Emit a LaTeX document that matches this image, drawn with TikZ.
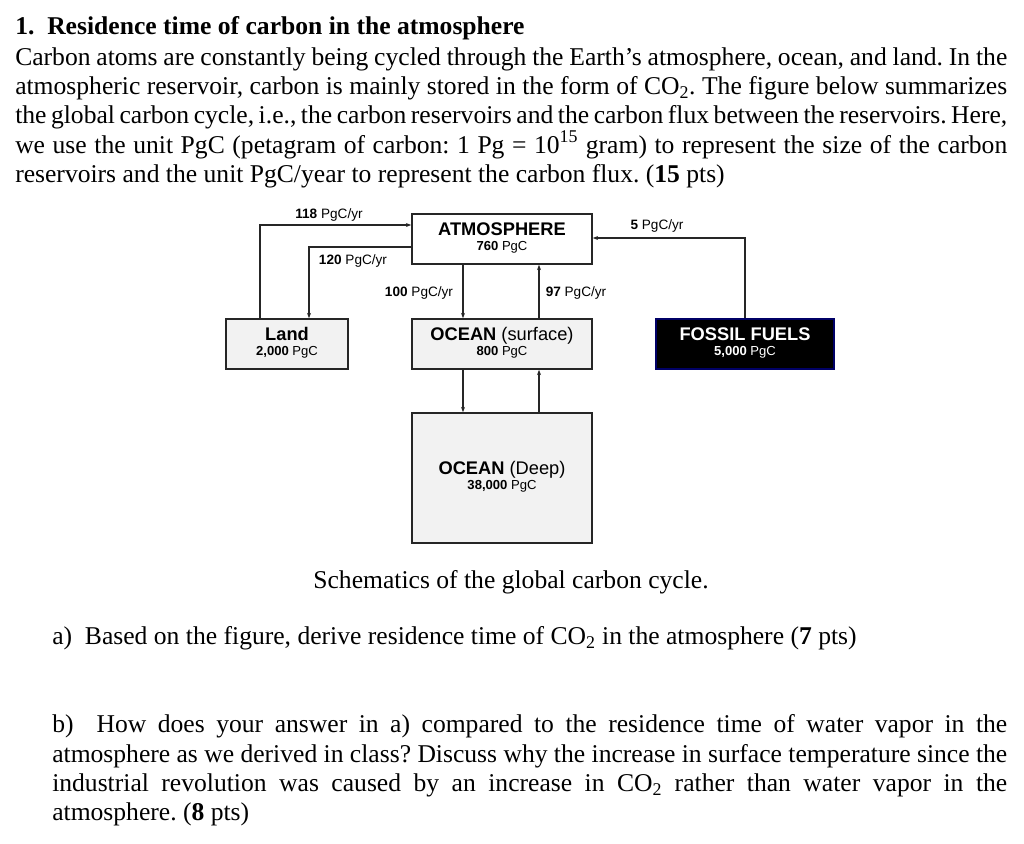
\documentclass[tikz,border=0pt]{standalone}
\usepackage{fontspec}
\usetikzlibrary{arrows.meta}
\setmainfont{Liberation Serif}
\setsansfont{Liberation Sans}
\frenchspacing
\newcommand{\bigt}{\fontsize{13.7}{15}\selectfont}
\newcommand{\smt}{\fontsize{9.8}{11}\selectfont}
\begin{document}
\begin{tikzpicture}[x=0.75pt,y=-0.75pt,
  box/.style={draw=black!85,line width=1.2pt,fill=black!5,inner sep=0pt,font=\sffamily},
  flow/.style={draw=black!85,line width=0.8pt,-{Stealth[length=4pt,width=3pt]}},
  lbl/.style={font=\sffamily\fontsize{10.2}{11}\selectfont,inner sep=1pt},
  txt/.style={anchor=base west,inner sep=0pt,font=\fontsize{19.2}{22}\selectfont}]
\useasboundingbox (0,0) rectangle (1024,843);
\fill[white] (0,0) rectangle (1024,843);
% text
\node[txt] (h) at (15,34) {\textbf{1.\ \ Residence time of carbon in the atmosphere}};
\node[txt] (l1) at (15,65) {\makebox[744pt][s]{Carbon atoms are constantly being cycled through the Earth’s atmosphere, ocean, and land. In the}};
\node[txt] (l2) at (15,94) {\makebox[744pt][s]{atmospheric reservoir, carbon is mainly stored in the form of CO\textsubscript{2}. The figure below summarizes}};
\node[txt] (l3) at (15,123) {\makebox[744pt][s]{the global carbon cycle, i.e., the carbon reservoirs and the carbon flux between the reservoirs. Here,}};
\node[txt] (l4) at (15,153) {\makebox[744pt][s]{we use the unit PgC (petagram of carbon: 1 Pg = 10\textsuperscript{15} gram) to represent the size of the carbon}};
\node[txt] (l5) at (15,182) {reservoirs and the unit PgC/year to represent the carbon flux. (\textbf{15} pts)};
% boxes
\node[box,fill=white,minimum width=135pt,minimum height=37.5pt] (atm) at (502,239) {\begin{tabular}{@{}c@{}}\bigt\textbf{ATMOSPHERE}\\[-1pt]\smt\textbf{760} PgC\end{tabular}};
\node[box,minimum width=91.5pt,minimum height=37.5pt] (land) at (287,344) {\begin{tabular}{@{}c@{}}\bigt\textbf{Land}\\[-1pt]\smt\textbf{2,000} PgC\end{tabular}};
\node[box,minimum width=135pt,minimum height=37.5pt] (surf) at (502,344) {\begin{tabular}{@{}c@{}}\bigt\textbf{OCEAN} (surface)\\[-1pt]\smt\textbf{800} PgC\end{tabular}};
\node[box,fill=black,draw=blue!40!black,text=white,minimum width=133.5pt,minimum height=37.5pt] (foss) at (745,344) {\begin{tabular}{@{}c@{}}\bigt\textbf{FOSSIL FUELS}\\[-1pt]\smt\textbf{5,000} PgC\end{tabular}};
\node[box,minimum width=135pt,minimum height=97.5pt] (deep) at (502,478) {\begin{tabular}{@{}c@{}}\bigt\textbf{OCEAN} (Deep)\\[-1pt]\smt\textbf{38,000} PgC\end{tabular}};
% flows
\coordinate (c118a) at (260,225); \coordinate (c120a) at (309,247);
\draw[flow] (land.north -| c118a) |- (c118a -| atm.west);
\draw[flow] (c120a -| atm.west) -| (land.north -| c120a);
\draw[flow] (atm.south -| 463,0) -- (surf.north -| 463,0);
\draw[flow] (surf.north -| 539,0) -- (atm.south -| 539,0);
\draw[flow] (surf.south -| 463,0) -- (deep.north -| 463,0);
\draw[flow] (deep.north -| 539,0) -- (surf.south -| 539,0);
\coordinate (cf) at (745,238);
\draw[flow] (foss.north) |- (cf -| atm.east);
\node[lbl] (t118) at (329,215) {\textbf{118} PgC/yr};
\node[lbl] (t120) at (353,261) {\textbf{120} PgC/yr};
\node[lbl] (t100) at (419,293) {\textbf{100} PgC/yr};
\node[lbl] (t97) at (576,293) {\textbf{97} PgC/yr};
\node[lbl] (t5) at (657,226) {\textbf{5} PgC/yr};
% caption & questions
\node[txt,anchor=base] (cap) at (511,588) {Schematics of the global carbon cycle.};
\node[txt] (qa) at (52,644) {a)\ \ Based on the figure, derive residence time of CO\textsubscript{2} in the atmosphere (\textbf{7} pts)};
\node[txt] (b1) at (52,732) {\makebox[716.25pt][s]{b)\ \ How does your answer in a) compared to the residence time of water vapor in the}};
\node[txt] (b2) at (52,762) {\makebox[716.25pt][s]{atmosphere as we derived in class? Discuss why the increase in surface temperature since the}};
\node[txt] (b3) at (52,791) {\makebox[716.25pt][s]{industrial revolution was caused by an increase in CO\textsubscript{2} rather than water vapor in the}};
\node[txt] (b4) at (52,820) {atmosphere. (\textbf{8} pts)};
\end{tikzpicture}
\end{document}
